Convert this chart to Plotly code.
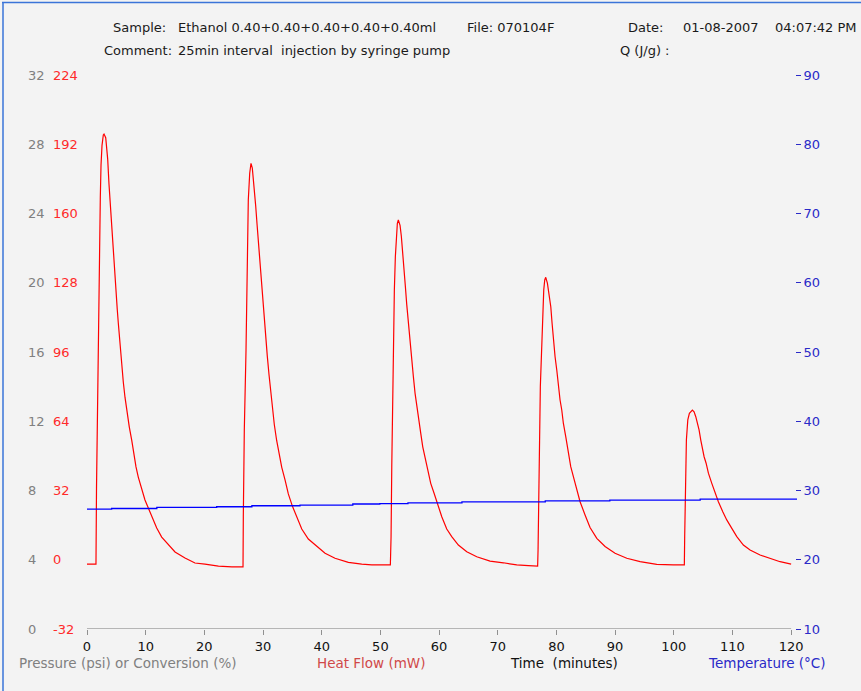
import plotly.graph_objects as go

# ---------------- data ----------------
time_min = [
    0.0, 1.53, 1.62, 1.79, 1.93, 2.10, 2.27, 2.39, 2.56, 2.78, 2.90, 3.19, 3.41, 3.53, 3.75, 3.92,
    4.09, 4.31, 4.55, 4.77, 4.94, 5.16, 5.33, 5.51, 5.74, 5.91, 6.19, 6.48, 6.77, 7.21, 7.62,
    7.96, 8.35, 8.74, 9.20, 9.88, 10.45, 11.03, 11.88, 12.73, 13.86, 15.0, 16.7, 18.4, 20.1,
    22.4, 24.7, 26.59,
    26.64, 26.81, 27.10, 27.27, 27.39, 27.49, 27.73, 27.95, 28.17, 28.46, 28.75, 28.98, 29.20,
    29.32, 29.66, 30.05, 30.34, 30.51, 30.73, 31.02, 31.31, 31.58, 31.92, 32.33, 32.73, 33.19,
    33.75, 34.31, 35.00, 35.74, 36.60, 37.72, 38.86, 40.57, 42.27, 44.54, 46.82, 48.53, 51.70,
    51.82, 51.94, 52.11, 52.21, 52.38, 52.55, 52.72, 52.89, 53.06, 53.35, 53.57, 53.81, 54.03,
    54.25, 54.49, 54.76, 55.05, 55.34, 55.62, 55.91, 56.20, 56.54, 56.88, 57.22, 57.61, 58.07,
    58.58, 59.15, 59.71, 60.46, 61.31, 62.16, 63.29, 64.72, 66.42, 68.69, 70.96, 73.24, 75.22,
    76.80,
    76.87, 77.09, 77.26, 77.50, 77.67, 77.84, 78.01, 78.18, 78.46, 78.75, 79.04, 79.26, 79.48,
    79.77, 80.06, 80.33, 80.62, 80.91, 81.18, 81.59, 82.04, 82.44, 82.89, 83.47, 84.03, 84.88,
    85.73, 86.88, 88.29, 89.99, 91.99, 94.26, 97.10, 99.93, 101.80,
    101.86, 101.98, 102.15, 102.39, 102.66, 103.17, 103.46, 103.75, 104.02, 104.31, 104.60,
    104.88, 105.17, 105.51, 105.90, 106.48, 107.04, 107.60, 108.35, 109.03, 109.89, 110.74,
    111.86, 113.0, 114.71, 116.41, 118.12, 120.0,
]
heat_flow_mw = [
    -2.0, -2.0, 33.2, 74.7, 113.1, 144.5, 167.6, 182.4, 191.5, 196.3, 196.7, 195.0, 189.5, 185.0,
    173.5, 166.0, 158.0, 148.0, 137.5, 129.3, 123.0, 115.5, 109.5, 103.0, 95.5, 90.0, 82.0, 75.0,
    68.5, 61.3, 55.3, 49.3, 42.9, 38.2, 33.6, 27.6, 23.9, 19.8, 14.7, 10.5, 6.8, 3.6, 0.8, -1.5,
    -2.0, -2.9, -3.3, -3.3,
    19.9, 60.0, 96.9, 127.8, 150.9, 166.2, 178.6, 183.2, 181.0, 173.0, 163.5, 155.0, 147.0,
    142.0, 129.0, 116.0, 107.0, 101.5, 94.0, 85.5, 77.5, 70.5, 62.5, 55.0, 49.0, 42.7, 36.9,
    30.4, 24.8, 19.9, 14.2, 9.6, 6.8, 3.0, 0.7, -1.2, -2.0, -2.4, -2.4,
    10.7, 43.0, 75.3, 104.6, 124.7, 140.0, 150.9, 155.5, 157.0, 154.5, 149.5, 142.5, 134.5,
    126.5, 118.0, 109.3, 100.0, 92.3, 84.6, 76.9, 70.7, 64.6, 58.4, 52.2, 47.6, 41.5, 35.3,
    30.7, 26.1, 19.9, 14.2, 10.7, 6.8, 3.7, 1.4, -0.6, -1.4, -2.4, -2.7, -2.9,
    4.5, 55.3, 80.0, 98.5, 113.9, 124.7, 129.3, 130.5, 127.8, 123.1, 116.9, 109.3, 101.5, 93.8,
    87.7, 80.0, 73.8, 69.2, 63.1, 56.9, 49.2, 43.0, 38.4, 32.2, 26.8, 20.7, 14.9, 9.9, 6.1, 3.0,
    0.7, -0.9, -2.1, -2.4, -2.4,
    10.7, 38.4, 55.3, 64.6, 67.7, 69.2, 68.4, 66.1, 63.1, 60.0, 55.3, 50.7, 47.6, 44.6, 40.0,
    35.3, 30.7, 26.8, 22.2, 18.4, 14.5, 10.7, 6.8, 4.5, 2.2, 0.7, -0.9, -2.0,
]
temp_time_min = [0.0, 4.2, 11.9, 22.1, 28.1, 36.3, 45.3, 49.9, 54.7, 63.9, 78.1, 89.1, 104.5, 121.0]
temperature_c = [27.3, 27.4, 27.55, 27.65, 27.8, 27.9, 28.05, 28.1, 28.2, 28.35, 28.5, 28.6, 28.75, 28.75]

pressure_ticks = [0, 4, 8, 12, 16, 20, 24, 28, 32]
heat_ticks = [-32, 0, 32, 64, 96, 128, 160, 192, 224]
temp_ticks = [10, 20, 30, 40, 50, 60, 70, 80, 90]
time_ticks = [0, 10, 20, 30, 40, 50, 60, 70, 80, 90, 100, 110, 120]

# ---------------- layout helpers (pixel -> paper) ----------------
W, H = 861, 691
TOP, BOTTOM = 75, 629
LEFT, RIGHT = 87, 797
FONT = "DejaVu Sans"


def xp(px):
    return px / W


def yp(py):
    return (BOTTOM - py) / (BOTTOM - TOP)


fig = go.Figure()
fig.add_trace(go.Scatter(x=[], y=[], yaxis="y3", showlegend=False, hoverinfo="skip"))
fig.add_trace(go.Scatter(x=temp_time_min, y=temperature_c, yaxis="y2", mode="lines",
                         line=dict(color="#0000ff", width=1.3, shape="hv"), showlegend=False))
fig.add_trace(go.Scatter(x=time_min, y=heat_flow_mw, yaxis="y", mode="lines",
                         line=dict(color="#ff0000", width=1.2), showlegend=False))

anns = []


def txt(s, px, py, color="#1a1a1a", size=13, anchor="left"):
    anns.append(dict(text=s, x=xp(px - 2), y=yp(py), xref="paper", yref="paper",
                     xanchor=anchor, yanchor="middle", showarrow=False,
                     font=dict(family=FONT, size=size, color=color)))


# header
txt("Sample:", 113, 27)
txt("Ethanol 0.40+0.40+0.40+0.40+0.40ml", 178, 27)
txt("File: 070104F", 467, 27)
txt("Date:", 628, 27)
txt("01-08-2007", 683, 27)
txt("04:07:42 PM", 775, 27)
txt("Comment:", 104, 50)
txt("25min interval \u00a0injection by syringe pump", 178, 50)
txt("Q (J/g) :", 620, 50)
# bottom axis titles
txt("Pressure (psi) or Conversion (%)", 19, 663, color="#808080", size=13.5)
txt("Heat Flow (mW)", 317, 663, color="#d04848", size=13.5)
txt("Time \u00a0(minutes)", 510, 663, color="#111111", size=13.5)
txt("Temperature (\u00b0C)", 708, 663, color="#2a2ac8", size=13.5)

fig.update_layout(
    template="none",
    width=W, height=H,
    margin=dict(l=0, r=0, t=TOP, b=H - BOTTOM, pad=0),
    paper_bgcolor="#f3f3f3", plot_bgcolor="#f3f3f3",
    showlegend=False,
    annotations=anns,
    xaxis=dict(domain=[xp(LEFT), xp(RIGHT)], range=[0, 121], tickvals=time_ticks,
               ticktext=[str(t) for t in time_ticks], showgrid=False, zeroline=False,
               showline=False, ticks="outside", ticklen=5, tickcolor="#909090",
               automargin=False,
               tickfont=dict(family=FONT, size=13, color="#111111"), anchor="y"),
    yaxis=dict(range=[-32, 224], tickvals=heat_ticks, ticktext=[str(v) for v in heat_ticks],
               anchor="free", position=xp(52), side="right", showgrid=False, zeroline=False,
               showline=False, ticks="", automargin=False,
               tickfont=dict(family=FONT, size=13, color="#ff2a2a")),
    yaxis2=dict(range=[10, 90], tickvals=temp_ticks, ticktext=[str(v) for v in temp_ticks],
                overlaying="y", anchor="free", position=xp(795), side="right",
                showgrid=False, zeroline=False, showline=False, ticks="outside", ticklen=5,
                tickcolor="#2a2ac8", automargin=False,
                tickfont=dict(family=FONT, size=13, color="#2a2ac8")),
    yaxis3=dict(range=[0, 32], tickvals=pressure_ticks, ticktext=[str(v) for v in pressure_ticks],
                overlaying="y", anchor="free", position=xp(27), side="right",
                showgrid=False, zeroline=False, showline=False, ticks="", automargin=False,
                tickfont=dict(family=FONT, size=13, color="#808080")),
    shapes=[
        dict(type="line", xref="x", yref="y", x0=0, x1=120, y0=-32, y1=-32,
             line=dict(color="#a0a0a0", width=1.5)),
        dict(type="line", xref="paper", yref="paper", x0=xp(3), x1=xp(3), y0=yp(2), y1=yp(691),
             line=dict(color="#3a74d8", width=1.5)),
        dict(type="line", xref="paper", yref="paper", x0=xp(2), x1=xp(861), y0=yp(2.5), y1=yp(2.5),
             line=dict(color="#3a74d8", width=1.5)),
    ],
)

fig.write_html("out.html")
